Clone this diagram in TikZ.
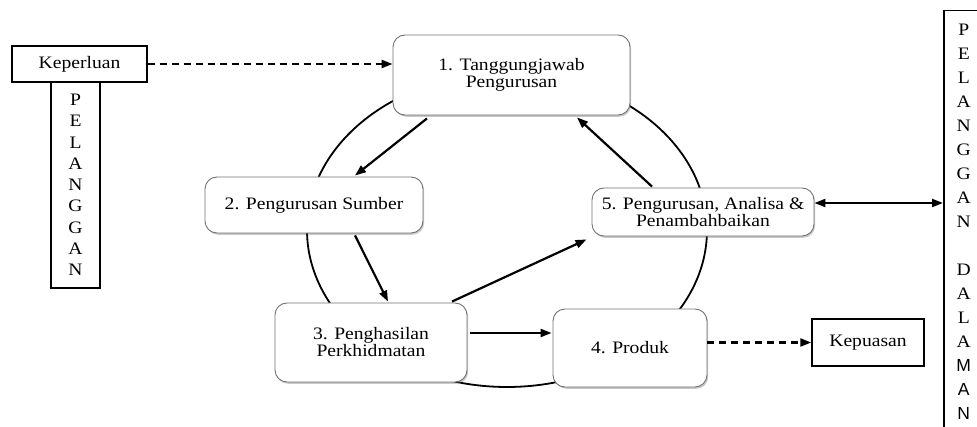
\documentclass[tikz,border=0pt]{standalone}
\usepackage{fontspec}
\setmainfont{Liberation Serif}[FakeStretch=1.12]
\newfontfamily\rsans{Liberation Sans}
\usetikzlibrary{arrows.meta,shadows,calc}
\begin{document}
\begin{tikzpicture}[x=1pt,y=-1pt,
  every node/.style={font=\fontsize{17.5}{17}\selectfont},
  pbox/.style={draw=black!55, line width=0.9pt, rounded corners=12pt, fill=white, align=center, inner sep=0pt,
    drop shadow={shadow xshift=1.2pt, shadow yshift=-1.8pt, opacity=0.35, fill=black!60}},
  sbox/.style={draw=black, line width=1.5pt, fill=white, inner sep=0pt, align=center},
  tip/.tip={Triangle[length=11pt,width=8pt]},
  conn/.style={line width=2.2pt, -tip},
  dconn/.style={line width=2.2pt, dash pattern=on 7pt off 5pt, -tip},
]
\useasboundingbox (0,0) rectangle (977,427);
\fill[white] (0,0) rectangle (977,427);

% cycle ellipse
\draw[line width=1.8pt] (507,230) ellipse [x radius=200, y radius=157];

% process boxes
\node[pbox, minimum width=237pt, minimum height=80pt] (b1) at (511.5,75) {1. Tanggungjawab\\Pengurusan};
\node[pbox, minimum width=218pt, minimum height=56pt] (b2) at (314,205) {2. Pengurusan Sumber};
\node[pbox, minimum width=192pt, minimum height=79pt] (b3) at (371,342.5) {3. Penghasilan\\Perkhidmatan};
\node[pbox, minimum width=154pt, minimum height=78pt] (b4) at (630,348) {4. Produk};
\node[pbox, minimum width=222pt, minimum height=48pt] (b5) at (703,212) {5. Pengurusan, Analisa \&\\Penambahbaikan};

% customer boxes
\node[sbox, minimum width=49pt, minimum height=206pt, font=\fontsize{17.5}{21.25}\selectfont] (lp) at (75.5,185)
  {P\\E\\L\\A\\N\\G\\G\\A\\N};
\node[sbox, minimum width=135pt, minimum height=36pt] (ker) at (79.5,64) {Keperluan};
\node[sbox, minimum width=112pt, minimum height=47pt] (kep) at (868,342.5) {Kepuasan};
\node[sbox, anchor=north west, minimum width=40pt, minimum height=422pt, font=\fontsize{17.5}{24}\selectfont] (rp) at (943,10)
  {P\\E\\L\\A\\N\\G\\G\\A\\N\\[24pt]D\\A\\L\\A\\{\rsans M}\\{\rsans A}\\{\rsans N}};

% connectors
\draw[conn] ($(b1.south)+(-84.5,3)$) -- ($(b2.north)+(41,-1)$);
\draw[conn] ($(b2.south)+(41,2)$) -- ($(b3.north)+(17,-1)$);
\draw[conn] ($(b3.north)+(81,-1)$) -- ($(b5.south west)+(-5,3)$);
\draw[conn] ($(b3.east)+(3,-9.5)$) -- ($(b4.west)+(-1,-15)$);
\draw[conn] ($(b5.north)+(-51,-1)$) -- ($(b1.south)+(65.5,2)$);
\draw[line width=2.2pt, tip-tip] ($(b5.east)+(0,-9)$) -- ($(rp.north west |- b5.east)+(0,-9)$);
\draw[dconn] (ker.east) -- (b1.west |- ker.east);
\draw[dconn] (b4.east |- kep.west) -- (kep.west);
\end{tikzpicture}
\end{document}
